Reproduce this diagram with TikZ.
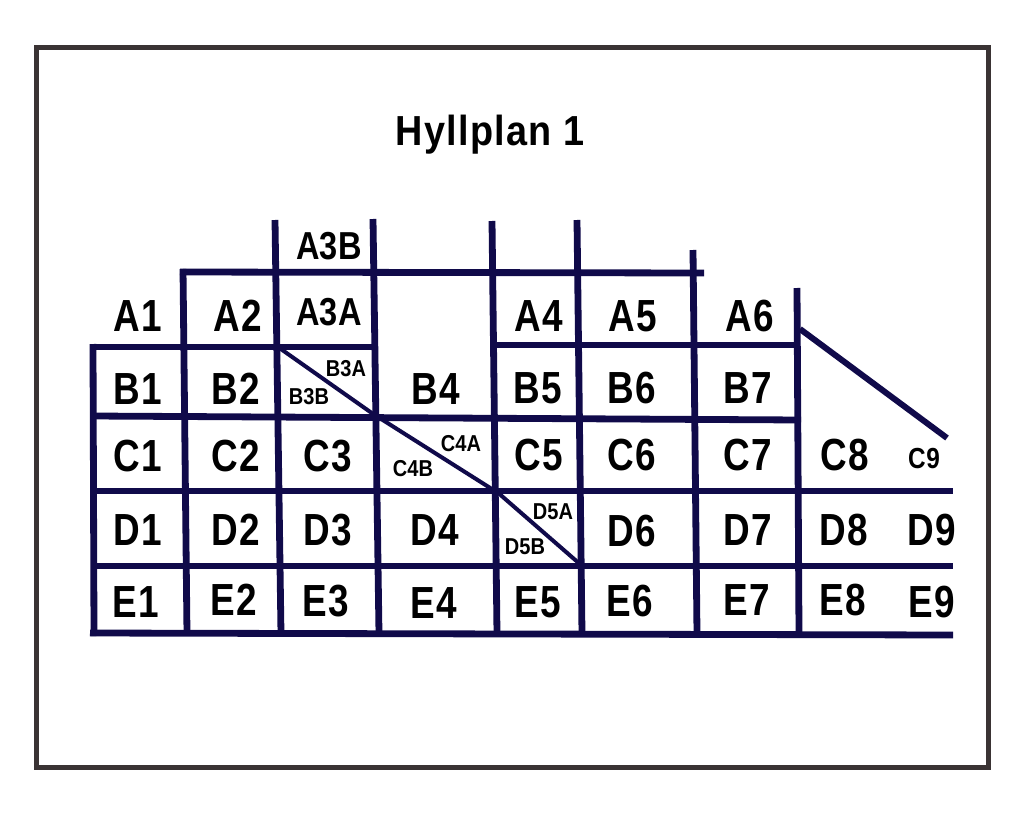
\documentclass[tikz,border=0pt]{standalone}
\usepackage{fontspec}
\setmainfont{Liberation Sans}
\newfontfamily\fbig[FakeStretch=.82,LetterSpace=4]{Liberation Sans Bold}
\newfontfamily\fmid[FakeStretch=.835,LetterSpace=1]{Liberation Sans Bold}
\newfontfamily\fsml[FakeStretch=.87]{Liberation Sans Bold}
\newfontfamily\fnine[FakeStretch=.84,LetterSpace=3]{Liberation Sans Bold}
\newfontfamily\ftitle[FakeStretch=.9,LetterSpace=3]{Liberation Sans Bold}
\definecolor{gridc}{HTML}{100A4A}
\definecolor{framec}{HTML}{3A3334}
\tikzset{
  gl/.style={draw=gridc,line width=6.8pt},
  dg/.style={draw=gridc,line width=4pt},
  lab/.style={anchor=base,inner sep=0pt,text=black},
  big/.style={lab,xshift=.8pt,font=\fbig\fontsize{45}{45}\selectfont},
  mid/.style={lab,font=\fmid\fontsize{39}{39}\selectfont},
  sml/.style={lab,font=\fsml\fontsize{23}{23}\selectfont},
  nine/.style={lab,font=\fnine\fontsize{29}{29}\selectfont},
  ttl/.style={lab,font=\ftitle\fontsize{42}{42}\selectfont}
}
\begin{document}
\begin{tikzpicture}[x=1pt,y=-1pt]
\useasboundingbox (0,0) rectangle (1024,829);
\fill[white] (0,0) rectangle (1024,829);
\draw[framec,line width=5pt] (36,48) rectangle (988,767);
% horizontals
\draw[gl] (180,272) -- (704,273);
\draw[gl] (90,347) -- (376,347);
\draw[gl] (493,345) -- (800,345);
\draw[gl] (92,416) -- (801,420);
\draw[gl] (93,491) -- (953,491);
\draw[gl] (93,566) -- (953,566);
\draw[gl] (90,633) -- (953,635);
% verticals
\draw[gl] (93,344) -- (94,636);
\draw[gl] (183,269) -- (187,634);
\draw[gl] (275,220) -- (281,634);
\draw[gl] (373,219) -- (379,634);
\draw[gl] (492,221) -- (497,634);
\draw[gl] (577,220) -- (582,634);
\draw[gl] (693,250) -- (697,634);
\draw[gl] (797,288) -- (799,634);
% diagonals
\draw[dg] (278,347) -- (376,416);
\draw[dg] (378,417) -- (495,491);
\draw[dg] (496,491) -- (581,565);
\draw[gridc,line width=6pt] (800,329) -- (947,438);
% texts
\node[ttl] (t) at (490,146) {Hyllplan 1};
\node[big] (a1) at (137,331) {A1};
\node[big] (a2) at (237,331) {A2};
\node[mid] (a3a) at (329,325) {A3A};
\node[mid] (a3b) at (329,259) {A3B};
\node[big] (a4) at (538,331) {A4};
\node[big] (a5) at (632,331) {A5};
\node[big] (a6) at (749,331) {A6};
\node[big] (b1) at (137,404) {B1};
\node[big] (b2) at (235,404) {B2};
\node[sml] (b3a) at (346,376) {B3A};
\node[sml] (b3b) at (309,404) {B3B};
\node[big] (b4) at (435,404) {B4};
\node[big] (b5) at (537,403) {B5};
\node[big] (b6) at (631,403) {B6};
\node[big] (b7) at (747,403) {B7};
\node[big] (c1) at (137,471) {C1};
\node[big] (c2) at (235,471) {C2};
\node[big] (c3) at (327,471) {C3};
\node[sml] (c4a) at (461,451) {C4A};
\node[sml] (c4b) at (413,476) {C4B};
\node[big] (c5) at (538,470) {C5};
\node[big] (c6) at (631,470) {C6};
\node[big] (c7) at (747,470) {C7};
\node[big] (c8) at (844,470) {C8};
\node[nine] (c9) at (924,468) {C9};
\node[big] (d1) at (137,545) {D1};
\node[big] (d2) at (235,545) {D2};
\node[big] (d3) at (327,545) {D3};
\node[big] (d4) at (434,545) {D4};
\node[sml] (d5a) at (553,519) {D5A};
\node[sml] (d5b) at (525,554) {D5B};
\node[big] (d6) at (631,546) {D6};
\node[big] (d7) at (747,545) {D7};
\node[big] (d8) at (843,545) {D8};
\node[big] (d9) at (931,545) {D9};
\node[big] (e1) at (135,617) {E1};
\node[big] (e2) at (233,615) {E2};
\node[big] (e3) at (325,616) {E3};
\node[big] (e4) at (433,618) {E4};
\node[big] (e5) at (537,617) {E5};
\node[big] (e6) at (629,616) {E6};
\node[big] (e7) at (746,615) {E7};
\node[big] (e8) at (842,615) {E8};
\node[big] (e9) at (931,617) {E9};
\end{tikzpicture}
\end{document}
